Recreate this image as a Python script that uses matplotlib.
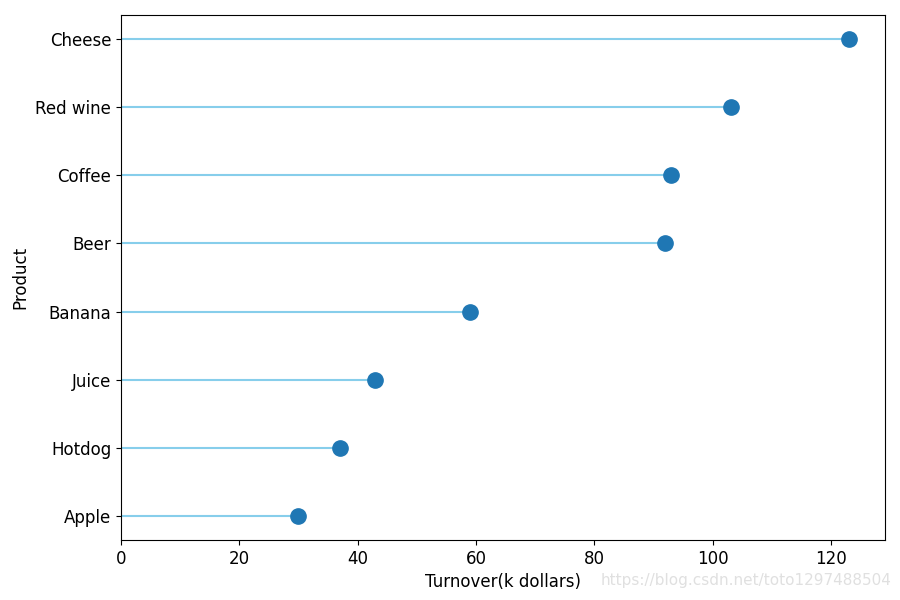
import matplotlib
matplotlib.use("Agg")
import matplotlib.pyplot as plt

products = ["Apple", "Hotdog", "Juice", "Banana", "Beer", "Coffee", "Red wine", "Cheese"]
turnover = [30, 37, 43, 59, 92, 93, 103, 123]

fig, ax = plt.subplots(figsize=(9, 6), dpi=100)
fig.subplots_adjust(left=0.1344, right=0.9833, top=0.975, bottom=0.1)
ax.hlines(y=products, xmin=0, xmax=turnover, color="skyblue")
ax.plot(turnover, products, "o", color="#1f77b4", markersize=11)
ax.set_xlim(0, 129.1)
ax.set_xlabel("Turnover(k dollars)", fontsize=12)
ax.set_ylabel("Product", fontsize=12)
ax.tick_params(labelsize=12)
fig.text(0.99, 0.02, "https://blog.csdn.net/toto1297488504", ha="right", va="bottom",
         color="#e0e0e0", fontsize=11)
fig.savefig("out.png")
